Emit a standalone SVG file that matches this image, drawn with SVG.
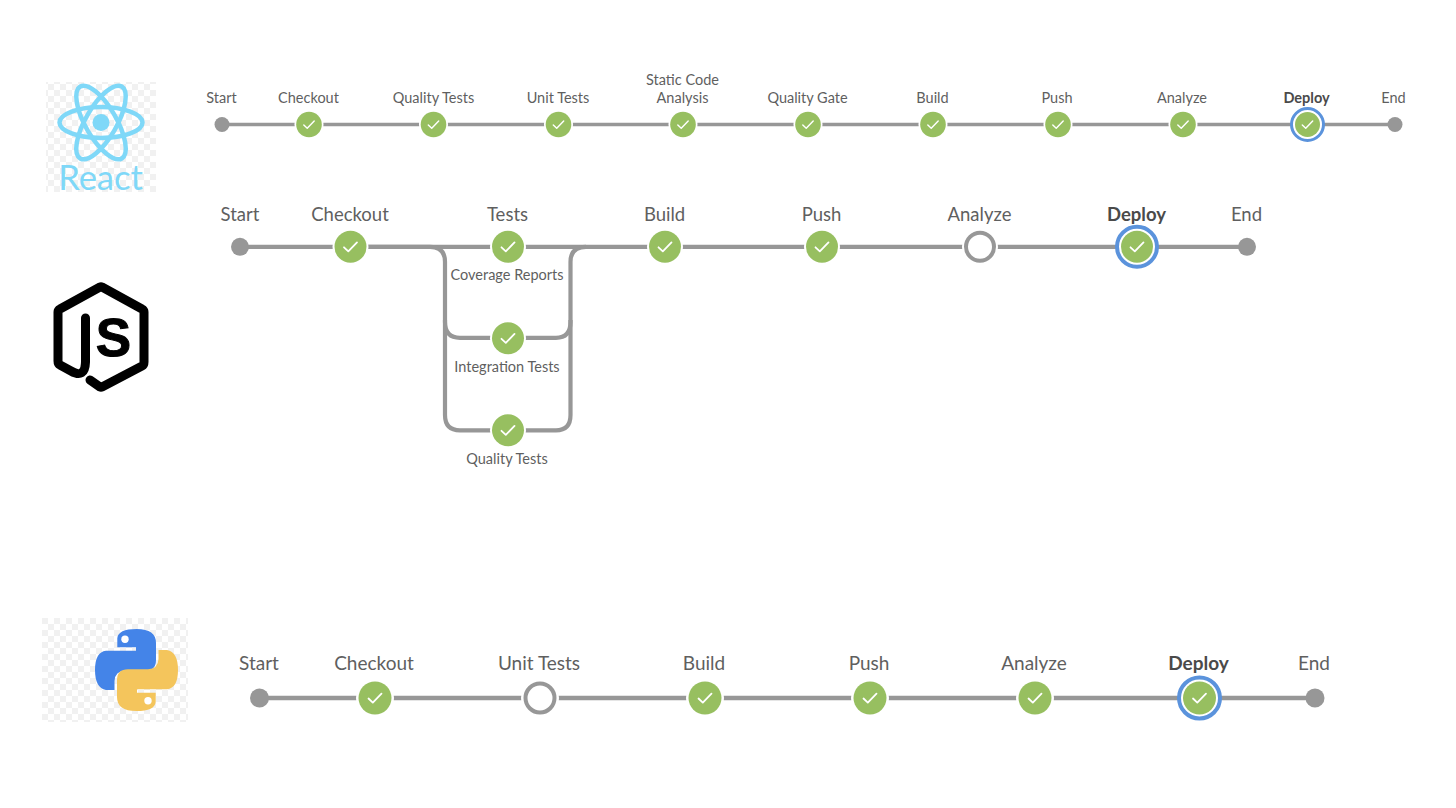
<svg xmlns="http://www.w3.org/2000/svg" width="1456" height="808" viewBox="0 0 1456 808">
<style>
text{font-family:Lato,"Open Sans","Liberation Sans",sans-serif;fill:#5f5f5f;text-anchor:middle}
.s{font-size:14.5px}.m{font-size:18.5px}.l{font-size:19px}.sub{font-size:14.5px}.b{font-weight:700;fill:#4a4a4a}
.line{fill:none;stroke:#979797}
.ok{fill:#97bf60}.halo{fill:#fff}
.end{fill:#979797}
.ck{fill:none;stroke:#fff;stroke-width:1.800;stroke-linecap:round;stroke-linejoin:round}
.ring{fill:none;stroke:#5b93dc}
.open{fill:#fff;stroke:#979797;stroke-width:4}
</style>
<defs>
<pattern id="checker" width="12" height="12" patternUnits="userSpaceOnUse">
<rect width="12" height="12" fill="#fff"/>
<rect width="6" height="6" fill="#f1f1f1"/><rect x="6" y="6" width="6" height="6" fill="#f1f1f1"/>
</pattern>
<path id="c" class="ck" d="M-6.500 .5L-2.200 4.600L6.500-4.400"/>
<path id="snake" d="M156 660Q156 670.700 145 670.700H125Q115 671 114.500 681V690H106Q95 688 95 670Q95 652 106 650.700H136V647.300H117.300V638.300Q118 629 136.700 629Q156 629 156 643Z"/>
</defs>

<g id="connectors">
<path class="line" stroke-width="3.500" d="M222 124.500H1395"/>
<path class="line" stroke-width="4.200" d="M240 246.800H1247"/>
<path class="line" stroke-width="4.200" d="M366 246.800H430Q445 246.800 445 262V322Q445 337.800 460 337.800H556Q570.500 337.800 570.500 322V262Q570.500 246.800 586 246.800"/>
<path class="line" stroke-width="4.200" d="M445 320V415Q445 430.300 460 430.300H556Q570.500 430.300 570.500 415V320"/>
<path class="line" stroke-width="4.500" d="M259.500 698H1315"/>
</g>

<g id="logo-react">
<rect x="46" y="82" width="110" height="110" fill="url(#checker)"/>
<g fill="none" stroke="#7fd8f8" stroke-width="4.500">
<ellipse cx="101" cy="122.500" rx="41.500" ry="15.500"/>
<ellipse cx="101" cy="122.500" rx="41.500" ry="15.500" transform="rotate(60 101 122.500)"/>
<ellipse cx="101" cy="122.500" rx="41.500" ry="15.500" transform="rotate(120 101 122.500)"/>
</g>
<circle cx="101" cy="122.500" r="8.500" fill="#7fd8f8"/>
<text x="100.500" y="190" style="font-size:34.500px;font-weight:400;fill:#7fd8f8">React</text>
</g>

<g id="logo-node">
<path fill="none" stroke="#000" stroke-width="9" stroke-linejoin="round" stroke-linecap="round" d="M85.500 318V362Q85 379 71 371L60 365Q58 364 58 361V312Q58 310 60 309L100 287Q101 286.500 102 287L142 309Q144 310 144 312V362Q144 365 142 366L102 387Q101 387.500 100 387L90 380"/>
<text x="113.500" y="355.500" stroke="#000" stroke-width="1" style="font-family:'Liberation Sans',sans-serif;font-size:53px;font-weight:700;fill:#000">S</text>
</g>

<g id="logo-python">
<rect x="42" y="618" width="146" height="104" fill="url(#checker)"/>
<use href="#snake" fill="#4484e8"/>
<circle cx="125" cy="639.300" r="3.700" fill="#fff"/>
<g transform="rotate(180 136.500 670)"><use href="#snake" fill="#f4c55c"/><circle cx="125" cy="639.300" r="3.700" fill="#fff"/></g>
</g>

<g id="r-start"><circle class="end" cx="222" cy="124.500" r="7.500"/><text class="s" x="221.500" y="103">Start</text></g>
<g id="r-checkout"><circle class="halo" cx="309" cy="124.500" r="14.500"/><circle class="ok" cx="309" cy="124.500" r="12.800"/><use href="#c" transform="translate(309 124.500) scale(.8)"/><text class="s" x="308.500" y="103">Checkout</text></g>
<g id="r-quality"><circle class="halo" cx="433.500" cy="124.500" r="14.500"/><circle class="ok" cx="433.500" cy="124.500" r="12.800"/><use href="#c" transform="translate(433.500 124.500) scale(.8)"/><text class="s" x="433.500" y="103">Quality Tests</text></g>
<g id="r-unit"><circle class="halo" cx="558.500" cy="124.500" r="14.500"/><circle class="ok" cx="558.500" cy="124.500" r="12.800"/><use href="#c" transform="translate(558.500 124.500) scale(.8)"/><text class="s" x="558" y="103">Unit Tests</text></g>
<g id="r-static"><circle class="halo" cx="683" cy="124.500" r="14.500"/><circle class="ok" cx="683" cy="124.500" r="12.800"/><use href="#c" transform="translate(683 124.500) scale(.8)"/><text class="s" x="682.500" y="85">Static Code</text><text class="s" x="682.500" y="103">Analysis</text></g>
<g id="r-gate"><circle class="halo" cx="808" cy="124.500" r="14.500"/><circle class="ok" cx="808" cy="124.500" r="12.800"/><use href="#c" transform="translate(808 124.500) scale(.8)"/><text class="s" x="807.500" y="103">Quality Gate</text></g>
<g id="r-build"><circle class="halo" cx="933" cy="124.500" r="14.500"/><circle class="ok" cx="933" cy="124.500" r="12.800"/><use href="#c" transform="translate(933 124.500) scale(.8)"/><text class="s" x="932.500" y="103">Build</text></g>
<g id="r-push"><circle class="halo" cx="1058" cy="124.500" r="14.500"/><circle class="ok" cx="1058" cy="124.500" r="12.800"/><use href="#c" transform="translate(1058 124.500) scale(.8)"/><text class="s" x="1057" y="103">Push</text></g>
<g id="r-analyze"><circle class="halo" cx="1183" cy="124.500" r="14.500"/><circle class="ok" cx="1183" cy="124.500" r="12.800"/><use href="#c" transform="translate(1183 124.500) scale(.8)"/><text class="s" x="1182" y="103">Analyze</text></g>
<g id="r-deploy"><circle class="halo" cx="1307.500" cy="124.500" r="16"/><circle class="ring" stroke-width="3" cx="1307.500" cy="124.500" r="16"/><circle class="ok" cx="1307.500" cy="124.500" r="12.500"/><use href="#c" transform="translate(1307.500 124.500) scale(.8)"/><text class="s b" x="1306.500" y="103">Deploy</text></g>
<g id="r-end"><circle class="end" cx="1395" cy="124.500" r="7.500"/><text class="s" x="1393.500" y="103">End</text></g>

<g id="n-start"><circle class="end" cx="240" cy="246.800" r="9"/><text class="m" x="240" y="220.500">Start</text></g>
<g id="n-checkout"><circle class="halo" cx="350.500" cy="246.800" r="18"/><circle class="ok" cx="350.500" cy="246.800" r="16"/><use href="#c" transform="translate(350.500 246.800)"/><text class="m" x="350" y="220.500">Checkout</text></g>
<g id="n-tests"><circle class="halo" cx="508" cy="246.800" r="18"/><circle class="ok" cx="508" cy="246.800" r="16"/><use href="#c" transform="translate(508 246.800)"/><text class="m" x="507.500" y="220.500">Tests</text><text class="sub" x="507" y="280">Coverage Reports</text></g>
<g id="n-integration"><circle class="halo" cx="508" cy="338.300" r="18"/><circle class="ok" cx="508" cy="338.300" r="16"/><use href="#c" transform="translate(508 338.300)"/><text class="sub" x="507" y="372">Integration Tests</text></g>
<g id="n-quality"><circle class="halo" cx="508" cy="430.300" r="18"/><circle class="ok" cx="508" cy="430.300" r="16"/><use href="#c" transform="translate(508 430.300)"/><text class="sub" x="507" y="464">Quality Tests</text></g>
<g id="n-build"><circle class="halo" cx="665" cy="246.800" r="18"/><circle class="ok" cx="665" cy="246.800" r="16"/><use href="#c" transform="translate(665 246.800)"/><text class="m" x="664.500" y="220.500">Build</text></g>
<g id="n-push"><circle class="halo" cx="822" cy="246.800" r="18"/><circle class="ok" cx="822" cy="246.800" r="16"/><use href="#c" transform="translate(822 246.800)"/><text class="m" x="821.500" y="220.500">Push</text></g>
<g id="n-analyze"><circle class="halo" cx="980" cy="246.800" r="18"/><circle class="open" cx="980" cy="246.800" r="14"/><text class="m" x="979.500" y="220.500">Analyze</text></g>
<g id="n-deploy"><circle class="halo" cx="1137" cy="246.800" r="20"/><circle class="ring" stroke-width="4" cx="1137" cy="246.800" r="20"/><circle class="ok" cx="1137" cy="246.800" r="16"/><use href="#c" transform="translate(1137 246.800)"/><text class="m b" x="1136.500" y="220.500">Deploy</text></g>
<g id="n-end"><circle class="end" cx="1247" cy="246.800" r="9"/><text class="m" x="1246.500" y="220.500">End</text></g>

<g id="p-start"><circle class="end" cx="259.500" cy="698" r="9.500"/><text class="l" x="259" y="669.500">Start</text></g>
<g id="p-checkout"><circle class="halo" cx="375" cy="698" r="19"/><circle class="ok" cx="375" cy="698" r="16.500"/><use href="#c" transform="translate(375 698)"/><text class="l" x="374" y="669.500">Checkout</text></g>
<g id="p-unit"><circle class="halo" cx="540" cy="698" r="19"/><circle class="open" cx="540" cy="698" r="14.500"/><text class="l" x="539" y="669.500">Unit Tests</text></g>
<g id="p-build"><circle class="halo" cx="705" cy="698" r="19"/><circle class="ok" cx="705" cy="698" r="16.500"/><use href="#c" transform="translate(705 698)"/><text class="l" x="704" y="669.500">Build</text></g>
<g id="p-push"><circle class="halo" cx="870" cy="698" r="19"/><circle class="ok" cx="870" cy="698" r="16.500"/><use href="#c" transform="translate(870 698)"/><text class="l" x="869" y="669.500">Push</text></g>
<g id="p-analyze"><circle class="halo" cx="1035" cy="698" r="19"/><circle class="ok" cx="1035" cy="698" r="16.500"/><use href="#c" transform="translate(1035 698)"/><text class="l" x="1034" y="669.500">Analyze</text></g>
<g id="p-deploy"><circle class="halo" cx="1199.500" cy="698" r="20.500"/><circle class="ring" stroke-width="4" cx="1199.500" cy="698" r="20.500"/><circle class="ok" cx="1199.500" cy="698" r="16.500"/><use href="#c" transform="translate(1199.500 698)"/><text class="l b" x="1198.500" y="669.500">Deploy</text></g>
<g id="p-end"><circle class="end" cx="1315" cy="698" r="9.500"/><text class="l" x="1314" y="669.500">End</text></g>
</svg>
